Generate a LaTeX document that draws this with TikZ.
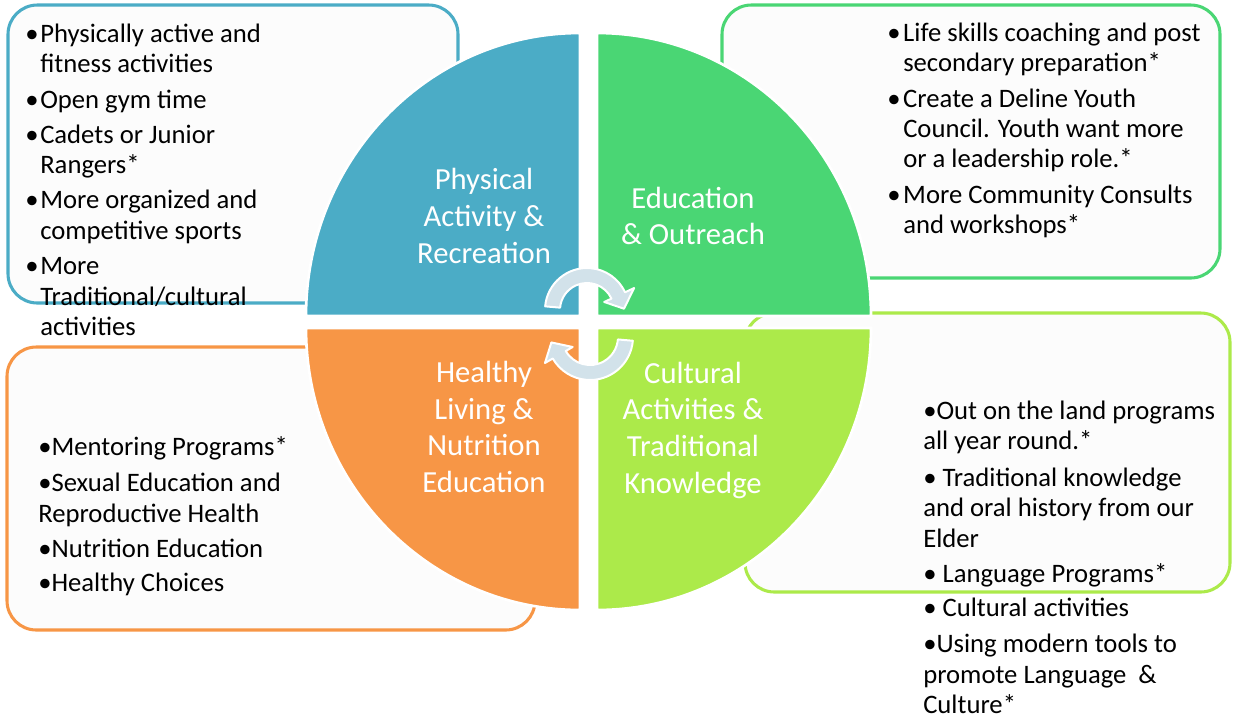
\documentclass[tikz,border=0pt]{standalone}
\usepackage{fontspec}
\setmainfont{Carlito}
\usepackage{tikz}
\definecolor{quadblue}{RGB}{75,172,198}
\definecolor{quadgreen}{RGB}{74,214,116}
\definecolor{quadlime}{RGB}{172,234,74}
\definecolor{quadorange}{RGB}{247,150,70}
\definecolor{cycfill}{RGB}{210,226,234}
\definecolor{boxfill}{RGB}{252,252,252}

\begin{document}
\begin{tikzpicture}[x=0.75pt,y=-0.75pt,
        listbox/.style={rounded corners=22pt, line width=2.3pt, fill=boxfill},
        quad/.style={draw=white, line width=2pt},
        cyc/.style={fill=cycfill, draw=white, line width=1.5pt, line join=round},
        title/.style={text=white, align=center, inner sep=0pt, font=\fontsize{23}{27.5}\selectfont},
        list/.style={anchor=base west, inner sep=0pt, font=\fontsize{20}{23}\selectfont}]
    \useasboundingbox (0,0) rectangle (1233,719);

    % boxes behind the circle
    \draw[listbox, draw=quadblue] (8,5) rectangle (458,303);
    \draw[listbox, draw=quadgreen] (722,5) rectangle (1220,278);
    \draw[listbox, draw=quadlime] (745,313) rectangle (1230,592);
    \draw[listbox, draw=quadorange] (7,347) rectangle (535,630);

    % the four quarters
    \path[quad, fill=quadblue] (580,316) -- (306,316) arc[start angle=180, end angle=270, x radius=274, y radius=283] -- cycle;
    \path[quad, fill=quadgreen] (597,316) -- (597,33) arc[start angle=270, end angle=360, x radius=274, y radius=283] -- cycle;
    \path[quad, fill=quadlime] (597,328) -- (871,328) arc[start angle=0, end angle=90, x radius=274, y radius=282] -- cycle;
    \path[quad, fill=quadorange] (580,328) -- (580,610) arc[start angle=90, end angle=180, x radius=274, y radius=282] -- cycle;

    % cycle arrows
    \begin{scope}[shift={(587,310)}]
        \path[cyc] (185:42) arc[start angle=185, end angle=335, radius=42] -- (335:52) -- (358:37)
            -- (335:19) -- (335:27) arc[start angle=335, end angle=185, radius=27] -- cycle;
    \end{scope}
    \begin{scope}[shift={(590,337)}]
        \path[cyc] (5:43) arc[start angle=5, end angle=150, radius=43] -- (150:52) -- (172:39)
            -- (150:20) -- (150:28) arc[start angle=150, end angle=5, radius=28] -- cycle;
    \end{scope}

    \node[title] (physical) at (484,216) {Physical\\Activity \&\\Recreation};
    \node[title] (education) at (693,216) {Education\\\& Outreach};
    \node[title] (healthy) at (484,427) {Healthy\\Living \&\\Nutrition\\Education};
    \node[title] (cultural) at (693,430) {Cultural\\Activities \&\\Traditional\\Knowledge};

    \node[list] (physicalList) at (25,42) {\begin{tabular}[t]{@{}p{11.25pt}@{}l@{}}
        \textbullet & Physically active and\\
         & fitness activities\\[3.5pt]
        \textbullet & Open gym time\\[3.25pt]
        \textbullet & Cadets or Junior\\
         & Rangers*\\[3.25pt]
        \textbullet & More organized and\\
         & competitive sports\\[3.25pt]
        \textbullet & More\\
         & Traditional/cultural\\
         & activities
    \end{tabular}};
    \node[list] (educationList) at (887,41) {\begin{tabular}[t]{@{}p{12pt}@{}l@{}}
        \textbullet & Life skills coaching and post\\[-0.5pt]
         & secondary preparation*\\[4.25pt]
        \textbullet & Create a Deline Youth\\[-0.5pt]
         & Council. Youth want more\\[-0.5pt]
         & or a leadership role.*\\[3.75pt]
        \textbullet & More Community Consults\\[-0.5pt]
         & and workshops*
    \end{tabular}};
    \node[list] (culturalList) at (923,419) {\begin{tabular}[t]{@{}l@{}}
        \textbullet Out on the land programs\\
        all year round.*\\[4.25pt]
        \textbullet{} Traditional knowledge\\
        and oral history from our\\
        Elder\\[3pt]
        \textbullet{} Language Programs*\\[3pt]
        \textbullet{} Cultural activities\\[3.75pt]
        \textbullet Using modern tools to\\
        promote Language\ \ \&\\
        Culture*
    \end{tabular}};
    \node[list] (healthyList) at (38,455) {\begin{tabular}[t]{@{}l@{}}
        \textbullet Mentoring Programs*\\[4.5pt]
        \textbullet Sexual Education and\\
        Reproductive Health\\[3pt]
        \textbullet Nutrition Education\\[3pt]
        \textbullet Healthy Choices
    \end{tabular}};
\end{tikzpicture}
\end{document}
